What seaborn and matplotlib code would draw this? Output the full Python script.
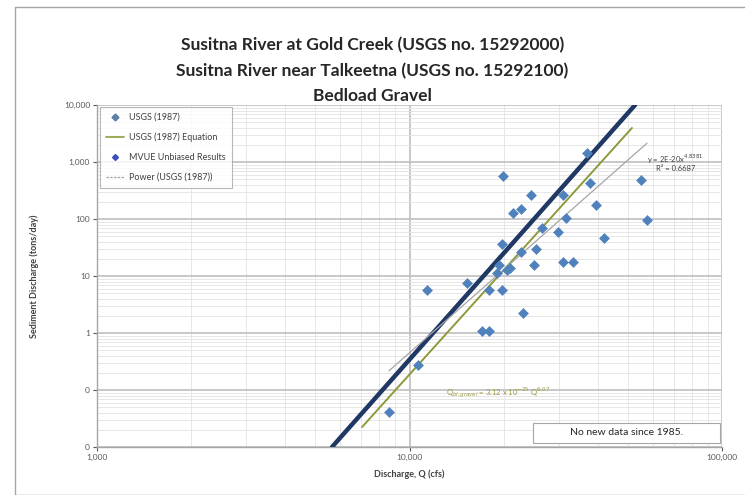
import matplotlib
matplotlib.use("Agg")
import matplotlib.pyplot as plt
import numpy as np
import pandas as pd
import seaborn as sns
from matplotlib.ticker import FixedLocator, FixedFormatter, LogLocator, NullFormatter
from matplotlib.lines import Line2D
from matplotlib.patches import Rectangle

# Measured bedload gravel samples (USGS 1987)
discharge_cfs = [8600, 10650, 11380, 15280, 17060, 17960, 17960, 19770, 19050, 20510,
                 20970, 19330, 19770, 22740, 25400, 25020, 23070, 30980, 33360, 29870,
                 41900, 19910, 36980, 37820, 55040, 39530, 57540, 30980, 31700, 24480,
                 21500, 22800, 26500]
sediment_tpd = [0.041, 0.275, 5.7, 7.5, 1.08, 1.08, 5.7, 5.7, 11.3, 12.8,
                13.8, 15.6, 36.4, 26.4, 29.8, 15.6, 2.24, 17.6, 17.6, 59.0,
                46.4, 568, 1440, 428, 483, 176, 96, 264, 104, 264,
                130, 150, 70]

# MVUE unbiased rating curve end points
mvue_q = [5650, 52700]
mvue_s = [0.01, 10000]

# USGS (1987) rating equation end points
usgs_eq_q = [7050, 51500]
usgs_eq_s = [0.0224, 3950]

# Excel power trendline fitted to the USGS samples: y = a * x^b
power_a = 2e-20
power_b = 4.8381
power_r2 = 0.6687

x_ticks = [1000, 10000, 100000]
x_tick_labels = ["1,000", "10,000", "100,000"]
y_ticks = [0.01, 0.1, 1, 10, 100, 1000, 10000]
y_tick_labels = ["0", "0", "1", "10", "100", "1,000", "10,000"]

sns.set_theme(style="white")
plt.rcParams["font.family"] = ["Lato", "DejaVu Sans"]

fig = plt.figure(figsize=(7.45, 4.95), dpi=100)
fig.patch.set_facecolor("white")
fig.patches.append(Rectangle((15 / 745, 0), 1, 1 - 7 / 495, transform=fig.transFigure,
                             fill=False, edgecolor="#A6A6A6", linewidth=1.0))

ax = fig.add_axes([97 / 745, 48 / 495, 625 / 745, 342 / 495])
ax.set_xscale("log")
ax.set_yscale("log")
ax.set_xlim(1000, 100000)
ax.set_ylim(0.01, 10000)

ax.xaxis.set_major_locator(FixedLocator(x_ticks))
ax.xaxis.set_major_formatter(FixedFormatter(x_tick_labels))
ax.yaxis.set_major_locator(FixedLocator(y_ticks))
ax.yaxis.set_major_formatter(FixedFormatter(y_tick_labels))
ax.xaxis.set_minor_locator(LogLocator(base=10, subs=np.arange(2, 10)))
ax.yaxis.set_minor_locator(LogLocator(base=10, subs=np.arange(2, 10)))
ax.xaxis.set_minor_formatter(NullFormatter())
ax.yaxis.set_minor_formatter(NullFormatter())

ax.grid(which="major", color="#BFBFBF", linewidth=1.2)
ax.grid(which="minor", color="#E3E3E3", linewidth=0.6)
ax.set_axisbelow(True)
for side in ["top", "right"]:
    ax.spines[side].set_visible(False)
for side in ["left", "bottom"]:
    ax.spines[side].set_color("#A6A6A6")
    ax.spines[side].set_linewidth(1.0)
ax.tick_params(axis="both", which="major", labelsize=6, colors="#595959", length=3,
               width=0.8, direction="out", pad=2, left=True, bottom=True)
ax.tick_params(axis="both", which="minor", length=0)

# Rating curves
mvue_df = pd.DataFrame({"Q": mvue_q, "S": mvue_s})
sns.lineplot(data=mvue_df, x="Q", y="S", ax=ax, color="#1F3864", linewidth=3.2,
             zorder=3, legend=False)
usgs_df = pd.DataFrame({"Q": usgs_eq_q, "S": usgs_eq_s})
sns.lineplot(data=usgs_df, x="Q", y="S", ax=ax, color="#8E9A3A", linewidth=1.4,
             zorder=3, legend=False)

q_fit = np.array([min(discharge_cfs), max(discharge_cfs)])
fit_df = pd.DataFrame({"Q": q_fit, "S": power_a * q_fit ** power_b})
sns.lineplot(data=fit_df, x="Q", y="S", ax=ax, color="#A6A6A6", linewidth=0.9,
             zorder=3, legend=False)

# Sample points
samples = pd.DataFrame({"Q": discharge_cfs, "S": sediment_tpd})
sns.scatterplot(data=samples, x="Q", y="S", ax=ax, marker="D", s=26,
                color="#4F81BD", edgecolor="#4F81BD", linewidth=0.4, zorder=4)

ax.set_xlabel("Discharge, Q (cfs)", fontsize=6.5, fontweight="bold", color="#404040",
              labelpad=6)
ax.set_ylabel("Sediment Discharge (tons/day)", fontsize=6.5, fontweight="bold",
              color="#404040", labelpad=18)

# Equation annotations
ax.text(0.925, 0.842, "y = 2E-20x$^{4.8381}$", transform=ax.transAxes, fontsize=5.5,
        color="#404040", ha="center", va="center")
ax.text(0.925, 0.813, "R² = 0.6687", transform=ax.transAxes, fontsize=5.5,
        color="#404040", ha="center", va="center")
ax.text(0.642, 0.158, r"Q$_{bl,gravel}$ = 3.12 x 10$^{-25}$ Q$^{6.07}$",
        transform=ax.transAxes, fontsize=5.5, color="#9A9A40", ha="center", va="center")

ax.add_patch(Rectangle((0.698, 0.012), 0.299, 0.058, transform=ax.transAxes,
                       facecolor="white", edgecolor="#A6A6A6", linewidth=0.8, zorder=5))
ax.text(0.848, 0.041, "No new data since 1985.", transform=ax.transAxes, fontsize=7.5,
        color="#262626", ha="center", va="center", zorder=6)

handles = [
    Line2D([], [], linestyle="none", marker="D", markersize=3.5, color="#5A7FA8"),
    Line2D([], [], color="#8E9A3A", linewidth=1.2),
    Line2D([], [], linestyle="none", marker="D", markersize=3, color="#3F4FBF"),
    Line2D([], [], color="#A6A6A6", linewidth=0.9, linestyle=(0, (2, 1))),
]
labels = ["USGS (1987)", "USGS (1987) Equation", "MVUE Unbiased Results", "Power (USGS (1987))"]
leg = ax.legend(handles, labels, loc="upper left", bbox_to_anchor=(0.005, 0.995),
                fontsize=6.5, frameon=True, fancybox=False, edgecolor="#A6A6A6",
                handlelength=2.0, labelspacing=1.2, borderpad=0.7, handletextpad=0.5,
                borderaxespad=0.0)
leg.get_frame().set_linewidth(0.8)
for t in leg.get_texts():
    t.set_color("#404040")

fig.text(0.5, 1 - 45 / 495, "Susitna River at Gold Creek (USGS no. 15292000)",
         ha="center", va="center", fontsize=12.5, fontweight="bold", color="#262626")
fig.text(0.5, 1 - 71 / 495, "Susitna River near Talkeetna (USGS no. 15292100)",
         ha="center", va="center", fontsize=12.5, fontweight="bold", color="#262626")
fig.text(0.5, 1 - 96 / 495, "Bedload Gravel",
         ha="center", va="center", fontsize=12.5, fontweight="bold", color="#262626")

fig.savefig("out.png", dpi=100)
